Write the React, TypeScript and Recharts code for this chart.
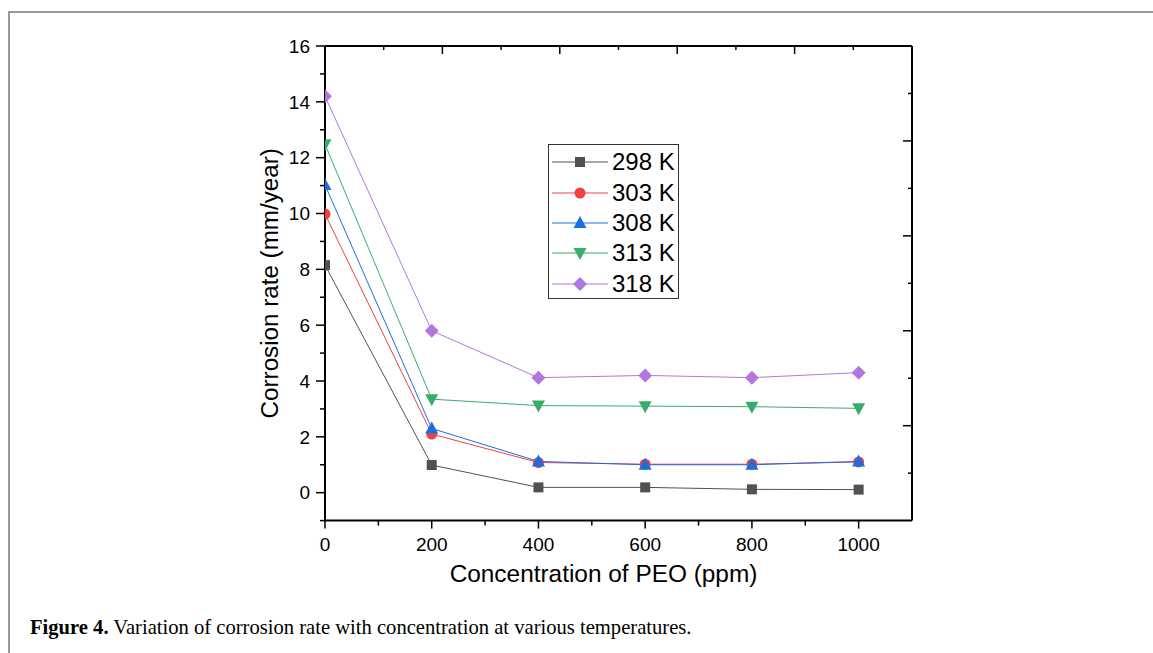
import React from "react";
import { LineChart, Line, XAxis, YAxis, Legend } from "recharts";

// PEO concentration (ppm) and corrosion rate (mm/year) per temperature
const CONCENTRATIONS = [0, 200, 400, 600, 800, 1000];
const RATE_298 = [8.15, 0.99, 0.19, 0.19, 0.12, 0.11];
const RATE_303 = [9.98, 2.1, 1.08, 1.02, 1.02, 1.1];
const RATE_308 = [11.02, 2.3, 1.12, 1.0, 1.0, 1.12];
const RATE_313 = [12.48, 3.35, 3.12, 3.1, 3.08, 3.02];
const RATE_318 = [14.2, 5.8, 4.12, 4.2, 4.12, 4.3];

// major + minor ticks, majors get a label
const X_TICKS = [0, 100, 200, 300, 400, 500, 600, 700, 800, 900, 1000];
const Y_TICKS = [-1, 0, 1, 2, 3, 4, 5, 6, 7, 8, 9, 10, 11, 12, 13, 14, 15, 16];
// unlabelled ticks on the top and right frame (10 divisions each)
const TOP_TICKS = [110, 220, 330, 440, 550, 660, 770, 880, 990];
const RIGHT_TICKS = [1, 2, 3, 4, 5, 6, 7, 8, 9];

type Shape = "square" | "circle" | "triangle" | "down" | "diamond";

const SERIES: { key: string; name: string; values: number[]; color: string; shape: Shape }[] = [
  { key: "r298", name: "298 K", values: RATE_298, color: "#515151", shape: "square" },
  { key: "r303", name: "303 K", values: RATE_303, color: "#F14040", shape: "circle" },
  { key: "r308", name: "308 K", values: RATE_308, color: "#1A6FDF", shape: "triangle" },
  { key: "r313", name: "313 K", values: RATE_313, color: "#37AD6B", shape: "down" },
  { key: "r318", name: "318 K", values: RATE_318, color: "#B177DE", shape: "diamond" },
];

const data = CONCENTRATIONS.map((c, i) => {
  const row: Record<string, number> = { conc: c };
  SERIES.forEach((s) => {
    row[s.key] = s.values[i];
  });
  return row;
});

const FONT = "'Liberation Sans', Arial, sans-serif";

function Marker({ cx, cy, shape, color }: { cx: number; cy: number; shape: Shape; color: string }) {
  switch (shape) {
    case "square":
      return <rect x={cx - 5} y={cy - 5} width={10} height={10} fill={color} />;
    case "circle":
      return <circle cx={cx} cy={cy} r={5.5} fill={color} />;
    case "triangle":
      return <polygon points={`${cx},${cy - 7} ${cx + 6.5},${cy + 5} ${cx - 6.5},${cy + 5}`} fill={color} />;
    case "down":
      return <polygon points={`${cx},${cy + 7} ${cx + 6.5},${cy - 5} ${cx - 6.5},${cy - 5}`} fill={color} />;
    default:
      return <polygon points={`${cx},${cy - 7} ${cx + 7},${cy} ${cx},${cy + 7} ${cx - 7},${cy}`} fill={color} />;
  }
}

// tick renderers: x/y arrive on the axis line (tickSize and tickMargin are 0)
function BottomTick({ x, y, payload }: any) {
  const major = payload.value % 200 === 0;
  return (
    <g>
      <line x1={x} y1={y} x2={x} y2={y + (major ? 8 : 5)} stroke="#000" strokeWidth={1.5} />
      {major && (
        <text x={x} y={y + 17} dy="0.71em" textAnchor="middle" fill="#000" fontSize={19} fontFamily={FONT}>
          {payload.value}
        </text>
      )}
    </g>
  );
}

function LeftTick({ x, y, payload }: any) {
  const major = payload.value % 2 === 0;
  return (
    <g>
      <line x1={x} y1={y} x2={x - (major ? 9 : 5)} y2={y} stroke="#000" strokeWidth={1.5} />
      {major && (
        <text x={x - 15} y={y} dy="0.355em" textAnchor="end" fill="#000" fontSize={19} fontFamily={FONT}>
          {payload.value}
        </text>
      )}
    </g>
  );
}

function TopTick({ x, y, index }: any) {
  const major = index % 2 === 1;
  return <line x1={x} y1={y} x2={x} y2={y + (major ? 8 : 4)} stroke="#000" strokeWidth={1.5} />;
}

function RightTick({ x, y, payload }: any) {
  const major = payload.value % 2 === 0;
  return <line x1={x} y1={y} x2={x - (major ? 9 : 4)} y2={y} stroke="#000" strokeWidth={1.5} />;
}

function LegendBox() {
  return (
    <div
      style={{
        width: 131,
        height: 155,
        boxSizing: "border-box",
        border: "1px solid #333",
        background: "#fff",
        paddingTop: 2,
        fontFamily: FONT,
      }}
    >
      {SERIES.map((s) => (
        <div key={s.key} style={{ display: "flex", alignItems: "center", height: 30.4 }}>
          <svg width={62} height={30} style={{ display: "block" }}>
            <line x1={3} y1={15} x2={59} y2={15} stroke={s.color} strokeWidth={1} />
            <Marker cx={31} cy={15} shape={s.shape} color={s.color} />
          </svg>
          <span style={{ fontSize: 24, color: "#000", marginLeft: 1, lineHeight: "30px" }}>{s.name}</span>
        </div>
      ))}
    </div>
  );
}

const axisLine = { stroke: "#000", strokeWidth: 2 };

export default function App() {
  return (
    <div style={{ position: "absolute", left: 0, top: 0, width: 1153, height: 653, background: "#fff" }}>
      <div
        style={{
          position: "absolute",
          left: 8,
          top: 11,
          width: 1145,
          height: 642,
          borderTop: "2px solid #9a9a9a",
          borderLeft: "2px solid #9a9a9a",
        }}
      />
      <LineChart
        width={1153}
        height={653}
        data={data}
        margin={{ top: 45, right: 240, bottom: 131.4, left: 324 }}
        style={{ position: "absolute", left: 0, top: 0 }}
      >
        <XAxis
          dataKey="conc"
          type="number"
          domain={[0, 1100]}
          ticks={X_TICKS}
          interval={0}
          height={1}
          allowDataOverflow
          axisLine={axisLine}
          tickLine={false}
          tickSize={0}
          tickMargin={0}
          tick={(p: any) => <BottomTick {...p} />}
          label={{
            value: "Concentration of PEO (ppm)",
            position: "bottom",
            offset: 43,
            dx: -15,
            style: { fill: "#000", fontSize: 24.4, fontFamily: FONT },
          }}
        />
        <XAxis
          xAxisId="top"
          dataKey="conc"
          orientation="top"
          type="number"
          domain={[0, 1100]}
          ticks={TOP_TICKS}
          interval={0}
          height={1}
          allowDataOverflow
          axisLine={axisLine}
          tickLine={false}
          tickSize={0}
          tickMargin={0}
          tick={(p: any) => <TopTick {...p} />}
        />
        <YAxis
          type="number"
          domain={[-1, 16]}
          ticks={Y_TICKS}
          interval={0}
          width={1}
          allowDataOverflow
          axisLine={axisLine}
          tickLine={false}
          tickSize={0}
          tickMargin={0}
          tick={(p: any) => <LeftTick {...p} />}
          label={{
            value: "Corrosion rate (mm/year)",
            angle: -90,
            position: "left",
            offset: 55,
            style: { fill: "#000", fontSize: 24.2, fontFamily: FONT, textAnchor: "middle" },
          }}
        />
        <YAxis
          yAxisId="right"
          orientation="right"
          type="number"
          domain={[0, 10]}
          ticks={RIGHT_TICKS}
          interval={0}
          width={1}
          allowDataOverflow
          axisLine={axisLine}
          tickLine={false}
          tickSize={0}
          tickMargin={0}
          tick={(p: any) => <RightTick {...p} />}
        />
        <Legend
          layout="vertical"
          align="center"
          verticalAlign="middle"
          content={() => <LegendBox />}
          wrapperStyle={{ left: 548, top: 144, width: 131, height: 155 }}
        />
        {SERIES.map((s) => (
          <Line
            key={s.key}
            dataKey={s.key}
            name={s.name}
            type="linear"
            stroke={s.color}
            strokeWidth={1}
            isAnimationActive={false}
            activeDot={false}
            dot={(p: any) => (
              <Marker key={`${s.key}-${p.index}`} cx={p.cx} cy={p.cy} shape={s.shape} color={s.color} />
            )}
          />
        ))}
      </LineChart>
      <div
        style={{
          position: "absolute",
          left: 30,
          top: 616,
          fontFamily: "'Liberation Serif', 'Times New Roman', serif",
          fontSize: 20.6,
          color: "#000",
          whiteSpace: "nowrap",
        }}
      >
        <b>Figure 4.</b> Variation of corrosion rate with concentration at various temperatures.
      </div>
    </div>
  );
}
